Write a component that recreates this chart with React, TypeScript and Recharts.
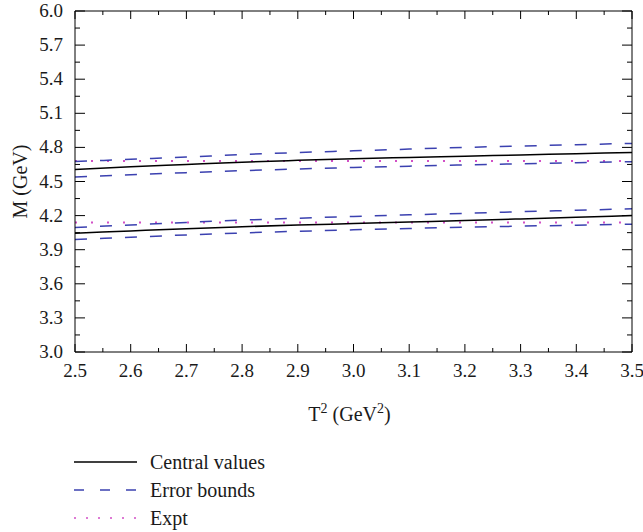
import { LineChart, Line, XAxis, YAxis, Legend, Label } from "recharts";

// T^2 (GeV^2)
const T2 = [2.5, 2.6, 2.7, 2.8, 2.9, 3.0, 3.1, 3.2, 3.3, 3.4, 3.5];

// upper state
const centralHigh = [4.605, 4.63, 4.65, 4.67, 4.686, 4.7, 4.712, 4.723, 4.734, 4.745, 4.756];
const boundHighUp = [4.675, 4.695, 4.715, 4.737, 4.755, 4.77, 4.785, 4.8, 4.812, 4.824, 4.835];
const boundHighDown = [4.54, 4.56, 4.578, 4.595, 4.61, 4.623, 4.635, 4.646, 4.656, 4.665, 4.674];
const exptHigh = [4.68, 4.68, 4.68, 4.68, 4.68, 4.68, 4.68, 4.68, 4.68, 4.68, 4.68];

// lower state
const centralLow = [4.045, 4.065, 4.085, 4.102, 4.117, 4.13, 4.143, 4.156, 4.171, 4.186, 4.2];
const boundLowUp = [4.095, 4.118, 4.14, 4.16, 4.177, 4.193, 4.207, 4.22, 4.234, 4.247, 4.26];
const boundLowDown = [3.99, 4.01, 4.03, 4.047, 4.062, 4.075, 4.087, 4.097, 4.107, 4.116, 4.125];
const exptLow = [4.14, 4.14, 4.14, 4.14, 4.14, 4.14, 4.14, 4.14, 4.14, 4.14, 4.14];

// major ticks carry labels, minor ticks are short marks only
const xMajor = [2.5, 2.6, 2.7, 2.8, 2.9, 3.0, 3.1, 3.2, 3.3, 3.4, 3.5];
const xMinor = [2.55, 2.65, 2.75, 2.85, 2.95, 3.05, 3.15, 3.25, 3.35, 3.45];
const yMajor = [3.0, 3.3, 3.6, 3.9, 4.2, 4.5, 4.8, 5.1, 5.4, 5.7, 6.0];
const yMinor = [3.15, 3.45, 3.75, 4.05, 4.35, 4.65, 4.95, 5.25, 5.55, 5.85];

const data = T2.map((t, i) => ({
  t,
  centralHigh: centralHigh[i],
  boundHighUp: boundHighUp[i],
  boundHighDown: boundHighDown[i],
  exptHigh: exptHigh[i],
  centralLow: centralLow[i],
  boundLowUp: boundLowUp[i],
  boundLowDown: boundLowDown[i],
  exptLow: exptLow[i],
}));

const xAll = [...xMajor, ...xMinor].sort((a, b) => a - b);
const yAll = [...yMajor, ...yMinor].sort((a, b) => a - b);

const FONT = "'Liberation Serif', 'Times New Roman', serif";
const INK = "#1a1a1a";
const BLUE = "#3b41b0";
const PINK = "#d24fc6";

// tick renderers: x/y arrive on the axis line (tickSize = tickMargin = 0)
function BottomTick({ x, y, payload }: any) {
  const major = xMajor.includes(payload.value);
  return (
    <g>
      <line x1={x} x2={x} y1={y} y2={y - (major ? 8 : 4)} stroke="#000" strokeWidth={1} />
      {major && (
        <text x={x} y={y + 25} textAnchor="middle" fontFamily={FONT} fontSize={19} fill={INK}>
          {payload.value.toFixed(1)}
        </text>
      )}
    </g>
  );
}

function TopTick({ x, y, payload }: any) {
  const major = xMajor.includes(payload.value);
  return <line x1={x} x2={x} y1={y} y2={y + (major ? 8 : 4)} stroke="#000" strokeWidth={1} />;
}

function LeftTick({ x, y, payload }: any) {
  const major = yMajor.includes(payload.value);
  return (
    <g>
      <line x1={x} x2={x + (major ? 10 : 5)} y1={y} y2={y} stroke="#000" strokeWidth={1} />
      {major && (
        <text x={x - 12} y={y + 6} textAnchor="end" fontFamily={FONT} fontSize={19} fill={INK}>
          {payload.value.toFixed(1)}
        </text>
      )}
    </g>
  );
}

function RightTick({ x, y, payload }: any) {
  const major = yMajor.includes(payload.value);
  return <line x1={x} x2={x - (major ? 10 : 5)} y1={y} y2={y} stroke="#000" strokeWidth={1} />;
}

function XTitle({ viewBox }: any) {
  const cx = viewBox.x + viewBox.width / 2 - 4;
  return (
    <text x={cx} y={421} textAnchor="middle" fontFamily={FONT} fontSize={20} fill={INK}>
      T<tspan dy={-8} fontSize={14}>2</tspan>
      <tspan dy={8}> (GeV</tspan>
      <tspan dy={-8} fontSize={14}>2</tspan>
      <tspan dy={8}>)</tspan>
    </text>
  );
}

function YTitle({ viewBox }: any) {
  const cy = viewBox.y + viewBox.height / 2;
  return (
    <text
      x={0}
      y={0}
      transform={`translate(27, ${cy}) rotate(-90)`}
      textAnchor="middle"
      fontFamily={FONT}
      fontSize={20}
      fill={INK}
    >
      M (GeV)
    </text>
  );
}

const legendRows = [
  { name: "Central values", color: "#000", dash: undefined },
  { name: "Error bounds", color: BLUE, dash: "10 16" },
  { name: "Expt", color: PINK, dash: "2 10" },
];

function renderLegend() {
  return (
    <div style={{ fontFamily: FONT, fontSize: 20, color: INK }}>
      {legendRows.map((r) => (
        <div key={r.name} style={{ display: "flex", alignItems: "center", height: 28 }}>
          <svg width={63} height={4} style={{ marginRight: 13 }}>
            <line x1={0} y1={2} x2={63} y2={2} stroke={r.color} strokeWidth={1.5} strokeDasharray={r.dash} />
          </svg>
          <span>{r.name}</span>
        </div>
      ))}
    </div>
  );
}

const xCommon = {
  dataKey: "t",
  type: "number" as const,
  domain: [2.5, 3.5],
  allowDataOverflow: true,
  ticks: xAll,
  interval: 0 as const,
  tickLine: false,
  tickSize: 0,
  tickMargin: 0,
  stroke: "#000",
};

const yCommon = {
  type: "number" as const,
  domain: [3, 6],
  allowDataOverflow: true,
  ticks: yAll,
  interval: 0 as const,
  tickLine: false,
  tickSize: 0,
  tickMargin: 0,
  stroke: "#000",
};

export default function App() {
  return (
    <div style={{ position: "absolute", left: 0, top: 0, background: "#fff" }}>
      <LineChart width={643} height={532} data={data} margin={{ top: 0, right: 0, bottom: 150, left: 0 }}>
        <XAxis xAxisId="bottom" orientation="bottom" height={30} tick={<BottomTick />} {...xCommon}>
          <Label content={<XTitle />} />
        </XAxis>
        <XAxis xAxisId="top" orientation="top" height={11} tick={<TopTick />} {...xCommon} />
        <YAxis yAxisId="left" orientation="left" width={75} tick={<LeftTick />} {...yCommon}>
          <Label content={<YTitle />} />
        </YAxis>
        <YAxis yAxisId="right" orientation="right" width={11} tick={<RightTick />} {...yCommon} />

        <Line xAxisId="bottom" yAxisId="left" type="monotone" dataKey="exptHigh" stroke={PINK} strokeWidth={2} strokeDasharray="2 14" dot={false} isAnimationActive={false} />
        <Line xAxisId="bottom" yAxisId="left" type="monotone" dataKey="exptLow" stroke={PINK} strokeWidth={2} strokeDasharray="2 14" dot={false} isAnimationActive={false} />
        <Line xAxisId="bottom" yAxisId="left" type="monotone" dataKey="boundHighUp" stroke={BLUE} strokeWidth={1.5} strokeDasharray="12 13" dot={false} isAnimationActive={false} />
        <Line xAxisId="bottom" yAxisId="left" type="monotone" dataKey="boundHighDown" stroke={BLUE} strokeWidth={1.5} strokeDasharray="12 13" dot={false} isAnimationActive={false} />
        <Line xAxisId="bottom" yAxisId="left" type="monotone" dataKey="boundLowUp" stroke={BLUE} strokeWidth={1.5} strokeDasharray="12 13" dot={false} isAnimationActive={false} />
        <Line xAxisId="bottom" yAxisId="left" type="monotone" dataKey="boundLowDown" stroke={BLUE} strokeWidth={1.5} strokeDasharray="12 13" dot={false} isAnimationActive={false} />
        <Line xAxisId="bottom" yAxisId="left" type="monotone" dataKey="centralHigh" stroke="#000" strokeWidth={1.5} dot={false} isAnimationActive={false} />
        <Line xAxisId="bottom" yAxisId="left" type="monotone" dataKey="centralLow" stroke="#000" strokeWidth={1.5} dot={false} isAnimationActive={false} />

        <Legend
          content={renderLegend}
          layout="horizontal"
          verticalAlign="middle"
          align="center"
          wrapperStyle={{ top: 448, left: 74, width: 300, bottom: "auto", right: "auto" }}
        />
      </LineChart>
    </div>
  );
}
